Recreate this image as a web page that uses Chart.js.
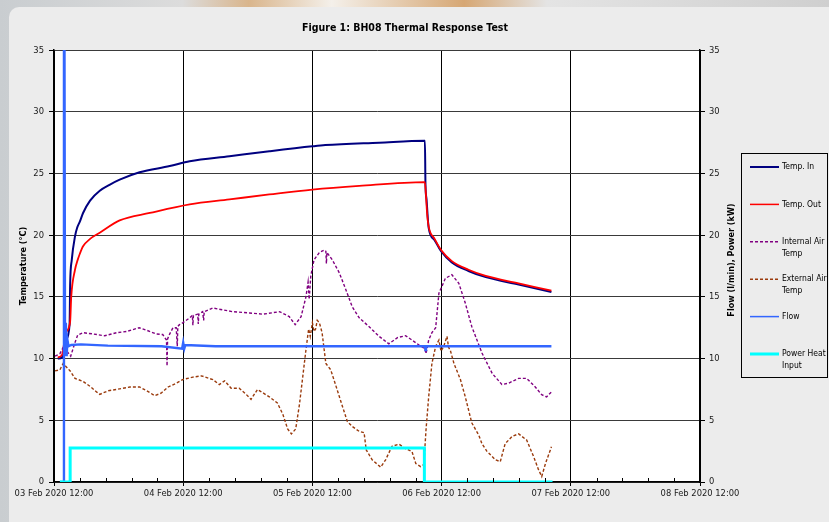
<!DOCTYPE html>
<html>
<head>
<meta charset="utf-8">
<script src="https://cdn.jsdelivr.net/npm/chart.js@4/dist/chart.umd.min.js"></script>
<style>
  html, body { margin: 0; padding: 0; }
  body {
    width: 829px; height: 522px; overflow: hidden; position: relative;
    background: linear-gradient(90deg, #c9cdd0 0%, #dcdcdc 22%, #d9b58c 30%, #f4f0ea 40%, #d6a774 56%, #e4e4e4 66%, #cfcfcf 100%);
  }
  #panel { position: absolute; left: 9px; top: 7px; width: 840px; height: 530px; background: #ececec; border-radius: 10px; }
  #wrap { position: absolute; left: 0; top: 0; width: 829px; height: 522px; }
</style>
</head>
<body>
<div id="panel"></div>
<div id="wrap"><canvas id="bhChart" width="829" height="522"></canvas></div>
<script>
// hours counted from 03 Feb 2020 12:00
const tickLabels = ['03 Feb 2020 12:00', '04 Feb 2020 12:00', '05 Feb 2020 12:00', '06 Feb 2020 12:00', '07 Feb 2020 12:00', '08 Feb 2020 12:00'];
const seriesNames = ['Temp. In', 'Temp. Out', 'Internal Air Temp', 'External Air Temp', 'Flow', 'Power Heat Input'];

const tempInHours = [0.7, 1.5, 2.2, 2.9, 3.0, 3.3, 3.9, 4.3, 4.8, 5.4, 6.7, 8.5, 10.4, 12.2, 15.9, 21.5, 25.2, 32.6, 40.0, 48.0, 50.4, 60.4, 68.9, 69.0, 69.2, 69.6, 70.7, 71.9, 73.9, 77.0, 80.2, 86.3, 92.4];
const tempInVals  = [10.0, 10.1, 11.5, 12.8, 16.0, 18.0, 19.9, 20.6, 21.1, 21.8, 22.8, 23.6, 24.1, 24.5, 25.1, 25.6, 26.0, 26.4, 26.8, 27.2, 27.3, 27.5, 27.65, 24.2, 22.9, 20.6, 19.6, 18.7, 17.8, 17.1, 16.6, 16.0, 15.4];

const tempOutHours = [0.7, 1.5, 2.2, 3.0, 3.2, 3.9, 4.4, 4.8, 5.4, 6.7, 8.5, 12.2, 17.8, 25.2, 32.6, 40.0, 48.0, 56.7, 68.9, 69.1, 69.3, 69.6, 70.7, 71.9, 73.9, 77.0, 80.2, 86.3, 92.4];
const tempOutVals  = [10.1, 10.3, 12.1, 13.0, 15.0, 17.2, 18.0, 18.5, 19.1, 19.7, 20.2, 21.2, 21.8, 22.5, 22.9, 23.3, 23.7, 24.0, 24.3, 23.2, 21.8, 20.7, 19.7, 18.8, 17.9, 17.2, 16.7, 16.1, 15.5];

const internalHours = [0.2, 1.1, 1.7, 2.0, 2.4, 3.1, 3.9, 4.4, 5.4, 7.2, 9.4, 11.6, 13.5, 15.8, 17.2, 19.0, 20.2, 20.9, 21.0, 21.1, 21.5, 22.1, 22.7, 22.9, 23.0, 23.3, 23.9, 25.2, 25.7, 25.8, 25.9, 26.7, 26.8, 26.9, 27.6, 27.8, 27.9, 29.5, 33.2, 36.3, 38.8, 41.9, 43.7, 44.8, 45.9, 46.8, 47.2, 47.4, 47.7, 48.3, 49.3, 50.2, 50.5, 50.6, 50.7, 51.7, 53.0, 54.2, 55.4, 56.7, 58.5, 60.4, 62.2, 63.8, 65.3, 66.5, 67.8, 68.9, 69.1, 69.6, 70.2, 70.9, 71.5, 72.7, 73.9, 75.2, 76.4, 77.6, 79.5, 81.4, 83.2, 84.4, 86.3, 87.8, 89.4, 90.6, 91.5, 92.4];
const internalVals  = [10.2, 10.4, 10.9, 11.0, 10.6, 10.2, 11.3, 11.9, 12.1, 12.0, 11.85, 12.1, 12.2, 12.5, 12.3, 12.0, 11.95, 11.5, 9.4, 11.6, 12.0, 12.5, 12.5, 11.0, 12.6, 12.75, 12.9, 13.3, 13.5, 12.7, 13.5, 13.6, 12.8, 13.6, 13.8, 13.1, 13.8, 14.1, 13.8, 13.7, 13.6, 13.8, 13.4, 12.75, 13.4, 15.0, 16.2, 14.8, 16.7, 18.0, 18.6, 18.8, 18.7, 17.7, 18.6, 18.0, 16.95, 15.6, 14.2, 13.3, 12.6, 11.8, 11.2, 11.7, 11.86, 11.5, 11.1, 10.8, 10.4, 11.5, 12.1, 12.5, 15.3, 16.5, 16.8, 16.1, 14.5, 12.6, 10.45, 8.8, 7.9, 8.0, 8.4, 8.4, 7.7, 7.07, 6.9, 7.3];

const externalHours = [0.2, 1.1, 1.7, 3.0, 3.9, 5.4, 6.7, 7.9, 8.5, 10.1, 11.6, 14.1, 15.9, 17.2, 18.7, 19.9, 21.2, 22.7, 23.9, 25.8, 27.4, 29.5, 30.7, 31.7, 32.9, 34.4, 35.7, 36.6, 37.8, 40.0, 41.5, 42.5, 43.4, 44.1, 44.9, 45.6, 46.2, 46.8, 47.3, 47.6, 48.0, 48.3, 48.6, 48.9, 49.3, 49.8, 50.5, 51.4, 52.4, 53.6, 54.5, 55.4, 56.7, 57.6, 58.0, 59.1, 60.7, 61.6, 62.8, 64.1, 65.3, 66.5, 67.2, 68.1, 68.7, 69.1, 69.6, 70.2, 70.9, 71.5, 71.9, 72.4, 73.0, 73.3, 73.6, 74.3, 75.5, 76.4, 77.6, 78.9, 79.5, 80.4, 82.0, 82.9, 83.8, 85.1, 86.3, 87.8, 89.1, 90.0, 90.6, 91.3, 92.2, 92.4];
const externalVals  = [9.0, 9.1, 9.6, 9.0, 8.4, 8.15, 7.75, 7.3, 7.1, 7.4, 7.5, 7.7, 7.7, 7.4, 7.0, 7.2, 7.7, 8.0, 8.3, 8.5, 8.6, 8.3, 7.9, 8.2, 7.6, 7.6, 7.1, 6.7, 7.5, 6.9, 6.4, 5.5, 4.3, 3.9, 4.3, 6.3, 8.5, 10.7, 12.4, 11.8, 12.9, 12.2, 12.4, 13.1, 12.9, 12.1, 9.6, 9.1, 7.75, 6.1, 4.9, 4.5, 4.1, 4.0, 2.6, 1.8, 1.2, 1.8, 2.9, 3.06, 2.7, 2.46, 1.5, 1.25, 1.4, 4.2, 6.9, 9.6, 11.0, 11.5, 10.6, 11.0, 11.8, 10.9, 10.7, 9.6, 8.3, 6.9, 4.8, 3.8, 3.1, 2.5, 1.8, 1.65, 3.1, 3.7, 3.9, 3.4, 2.05, 1.0, 0.45, 1.5, 2.6, 2.85];

const flowHours = [1.1, 1.8, 1.85, 1.95, 2.05, 2.2, 2.35, 2.5, 2.7, 3.2, 5.0, 10.0, 20.0, 23.8, 24.0, 24.2, 24.4, 30.0, 40.0, 50.0, 60.0, 68.9, 69.0, 69.1, 80.0, 92.4];
const flowVals  = [0, 0, 35, 35, 10.3, 12.9, 10.2, 11.5, 11.0, 11.1, 11.15, 11.05, 11.0, 10.8, 11.3, 10.8, 11.1, 11.0, 11.0, 11.0, 11.0, 11.0, 10.7, 11.0, 11.0, 11.0];

const powerHours = [1.1, 3.0, 68.8, 92.6];
const powerVals  = [0, 2.75, 0, 0];

const xTickHours = Array.from({ length: 26 }, (_, i) => i * 4.8);

const FONT = "'Liberation Sans Narrow', 'DejaVu Sans Condensed', 'Liberation Sans', sans-serif";
Chart.defaults.font.family = FONT;
Chart.defaults.font.size = 9.3;
Chart.defaults.color = '#1a1a1a';

const pts = (hs, vs) => hs.map((h, i) => ({ x: h, y: vs[i] }));

const extras = {
    id: 'extras',
    beforeDraw(chart) {
        const { ctx, chartArea: a } = chart;
        ctx.save();
        ctx.fillStyle = '#fff';
        ctx.fillRect(a.left, a.top, a.right - a.left, a.bottom - a.top);
        ctx.restore();
    },
    afterDraw(chart) {
        const { ctx, chartArea: a } = chart;
        const xs = chart.scales.x;
        ctx.save();
        // minor ticks inside the plot
        ctx.strokeStyle = '#000'; ctx.lineWidth = 1;
        xs.ticks.forEach((t, i) => {
            if (i % 5 === 0) return;
            const px = Math.round(xs.getPixelForValue(t.value)) + 0.5;
            ctx.beginPath(); ctx.moveTo(px, a.bottom); ctx.lineTo(px, a.bottom - 4); ctx.stroke();
        });
        // right axis title
        ctx.translate(732, (a.top + a.bottom) / 2 - 6);
        ctx.rotate(-Math.PI / 2);
        ctx.font = 'bold 9px ' + FONT;
        ctx.fillStyle = '#000'; ctx.textAlign = 'center'; ctx.textBaseline = 'middle';
        ctx.fillText('Flow (l/min), Power (kW)', 0, 0);
        ctx.restore();

        // legend
        ctx.save();
        ctx.strokeStyle = '#000'; ctx.lineWidth = 1;
        ctx.strokeRect(741.5, 153.5, 86, 224);
        ctx.font = '8.5px ' + FONT;
        ctx.textBaseline = 'middle'; ctx.textAlign = 'left';
        chart.data.datasets.forEach((ds, i) => {
            const y = 167 + i * 37.4;
            ctx.strokeStyle = ds.borderColor;
            ctx.lineWidth = ds.legendWidth || 1.5;
            ctx.setLineDash(ds.borderDash || []);
            ctx.beginPath(); ctx.moveTo(750, y); ctx.lineTo(779, y); ctx.stroke();
            ctx.setLineDash([]);
            ctx.fillStyle = '#000';
            const words = ds.label.split(' ');
            const lines = words.length > 2 ? [words.slice(0, 2).join(' '), words.slice(2).join(' ')] : [ds.label];
            lines.forEach((ln, k) => ctx.fillText(ln, 782, y + k * 12));
        });
        ctx.restore();
    }
};

new Chart(document.getElementById('bhChart'), {
    type: 'line',
    data: {
        datasets: [
            { label: seriesNames[0], data: pts(tempInHours, tempInVals), borderColor: '#000080', borderWidth: 2, legendWidth: 2, cubicInterpolationMode: 'monotone', yAxisID: 'y', order: 6 },
            { label: seriesNames[1], data: pts(tempOutHours, tempOutVals), borderColor: '#ff0000', borderWidth: 1.8, legendWidth: 1.5, cubicInterpolationMode: 'monotone', yAxisID: 'y', order: 5 },
            { label: seriesNames[2], data: pts(internalHours, internalVals), borderColor: '#800080', borderWidth: 1.4, borderDash: [3, 2], yAxisID: 'y', order: 4 },
            { label: seriesNames[3], data: pts(externalHours, externalVals), borderColor: '#9a3a0c', borderWidth: 1.4, borderDash: [3, 2], yAxisID: 'y', order: 3 },
            { label: seriesNames[4], data: pts(flowHours, flowVals), borderColor: '#3366ff', borderWidth: 2.4, legendWidth: 1.5, yAxisID: 'y2', order: 2 },
            { label: seriesNames[5], data: pts(powerHours, powerVals), borderColor: '#00ffff', borderWidth: 3, legendWidth: 3, stepped: true, yAxisID: 'y2', order: 1 }
        ]
    },
    options: {
        responsive: false,
        animation: false,
        devicePixelRatio: 1,
        elements: { point: { radius: 0 }, line: { tension: 0 } },
        layout: { padding: { left: 0, right: 19, top: 0, bottom: 0 } },
        plugins: {
            legend: { display: false },
            tooltip: { enabled: false },
            title: {
                display: true,
                text: 'Figure 1: BH08 Thermal Response Test',
                color: '#000',
                font: { size: 10.5, weight: 'bold' },
                padding: { top: 21.5, bottom: 16 }
            }
        },
        scales: {
            x: {
                type: 'linear', min: 0, max: 120,
                afterBuildTicks: s => { s.ticks = xTickHours.map(v => ({ value: v })); },
                afterFit: s => { s.height = 40; },
                ticks: { autoSkip: false, maxRotation: 0, padding: 2, callback: (v, i) => i % 5 === 0 ? tickLabels[i / 5] : '' },
                grid: {
                    color: c => c.index % 5 === 0 ? '#000' : 'rgba(0,0,0,0)',
                    tickColor: c => c.index % 5 === 0 ? '#000' : 'rgba(0,0,0,0)',
                    tickLength: 4
                },
                border: { color: '#000', width: 1.5 }
            },
            y: {
                position: 'left', min: 0, max: 35,
                afterFit: s => { s.width = 54; },
                ticks: { stepSize: 5, padding: 5 },
                grid: { color: '#3a3a3a', tickColor: '#000', tickLength: 5 },
                border: { color: '#000', width: 1.5 },
                title: { display: true, text: 'Temperature (°C)', color: '#000', font: { size: 9, weight: 'bold' }, padding: { top: 18, bottom: 0 } }
            },
            y2: {
                position: 'right', min: 0, max: 35,
                afterFit: s => { s.width = 110; },
                ticks: { stepSize: 5, padding: 4 },
                grid: { drawOnChartArea: false, tickColor: '#000', tickLength: 5 },
                border: { color: '#000', width: 1.5 }
            }
        }
    },
    plugins: [extras]
});
</script>
</body>
</html>
